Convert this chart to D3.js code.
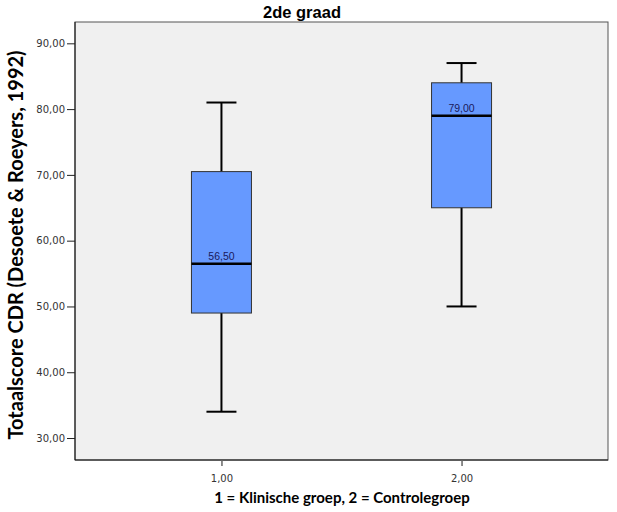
<!DOCTYPE html>
<html><head><meta charset="utf-8">
<script src="https://cdn.jsdelivr.net/npm/d3@7"></script>
<style>body{margin:0;background:#fff}</style>
</head><body>
<svg id="c" width="617" height="512"></svg>
<script>
const categories = ["1,00", "2,00"];
const mins = [34, 50];
const q1s = [49, 65];
const medians = [56.5, 79];
const q3s = [70.5, 84];
const maxs = [81, 87];
const yTicks = [30, 40, 50, 60, 70, 80, 90];
const titleText = "2de graad";
const xLabel = "1 = Klinische groep, 2 = Controlegroep";
const yLabel = "Totaalscore CDR (Desoete & Roeyers, 1992)";

const svg = d3.select("#c");
const L = 75, R = 608, T = 22, B = 460;
const fmt = v => v.toFixed(2).replace(".", ",");

const y = d3.scaleLinear().domain([26.66, 93.24]).range([B, T]);
const x = d3.scalePoint().domain(categories).range([L, R]).padding(0.61);

svg.append("rect").attr("x", L).attr("y", T).attr("width", R - L).attr("height", B - T)
  .attr("fill", "#f0f0f0").attr("stroke", "#555").attr("stroke-width", 1);
svg.append("line").attr("x1", L).attr("x2", R).attr("y1", B).attr("y2", B).attr("stroke", "#111");
svg.append("line").attr("x1", L).attr("x2", L).attr("y1", T).attr("y2", B).attr("stroke", "#111");

const yAxis = svg.append("g").attr("transform", `translate(${L},0)`)
  .call(d3.axisLeft(y).tickValues(yTicks).tickFormat(fmt).tickSize(8).tickSizeOuter(0));
yAxis.select(".domain").remove();
yAxis.selectAll("line").attr("stroke", "#222");
yAxis.selectAll("text").attr("font-family", "DejaVu Sans").attr("font-size", 10).attr("fill", "#333").attr("dx", "1");

const xAxis = svg.append("g").attr("transform", `translate(0,${B})`)
  .call(d3.axisBottom(x).tickSize(6).tickSizeOuter(0));
xAxis.select(".domain").remove();
xAxis.selectAll("line").attr("stroke", "#666").attr("stroke-width", 1.5);
xAxis.selectAll("text").attr("font-family", "DejaVu Sans").attr("font-size", 10).attr("fill", "#333").attr("dy", "1.3em");

const data = categories.map((c, i) => ({c, min: mins[i], q1: q1s[i], med: medians[i], q3: q3s[i], max: maxs[i]}));
const bw = 60, cw = 30;
const g = svg.append("g");
data.forEach(d => {
  const cx = x(d.c);
  g.append("line").attr("x1", cx).attr("x2", cx).attr("y1", y(d.max)).attr("y2", y(d.min)).attr("stroke", "#000").attr("stroke-width", 2);
  [d.min, d.max].forEach(v => g.append("line").attr("x1", cx - cw / 2).attr("x2", cx + cw / 2)
    .attr("y1", y(v)).attr("y2", y(v)).attr("stroke", "#000").attr("stroke-width", 2));
  g.append("rect").attr("x", cx - bw / 2).attr("y", y(d.q3)).attr("width", bw).attr("height", y(d.q1) - y(d.q3))
    .attr("fill", "#6699ff").attr("stroke", "#333").attr("stroke-width", 1);
  g.append("line").attr("x1", cx - bw / 2).attr("x2", cx + bw / 2).attr("y1", y(d.med)).attr("y2", y(d.med))
    .attr("stroke", "#000").attr("stroke-width", 2.5);
  g.append("text").attr("x", cx).attr("y", y(d.med) - 3.5).attr("text-anchor", "middle")
    .attr("font-family", "Liberation Sans").attr("font-size", 10.5).attr("fill", "#1a1a5c").text(fmt(d.med));
});

svg.append("text").attr("x", 302).attr("y", 18).attr("text-anchor", "middle")
  .attr("font-family", "Liberation Sans").attr("font-weight", "bold").attr("font-size", 16.5).attr("fill", "#000").text(titleText);
svg.append("text").attr("x", 342).attr("y", 503).attr("text-anchor", "middle")
  .attr("font-family", "Lato").attr("font-weight", "bold").attr("font-size", 15).attr("fill", "#000").text(xLabel);
svg.append("text").attr("transform", `translate(23,245) rotate(-90)`).attr("text-anchor", "middle")
  .attr("font-family", "Lato").attr("font-weight", "bold").attr("font-size", 20).attr("fill", "#000").text(yLabel);
</script>
</body></html>
